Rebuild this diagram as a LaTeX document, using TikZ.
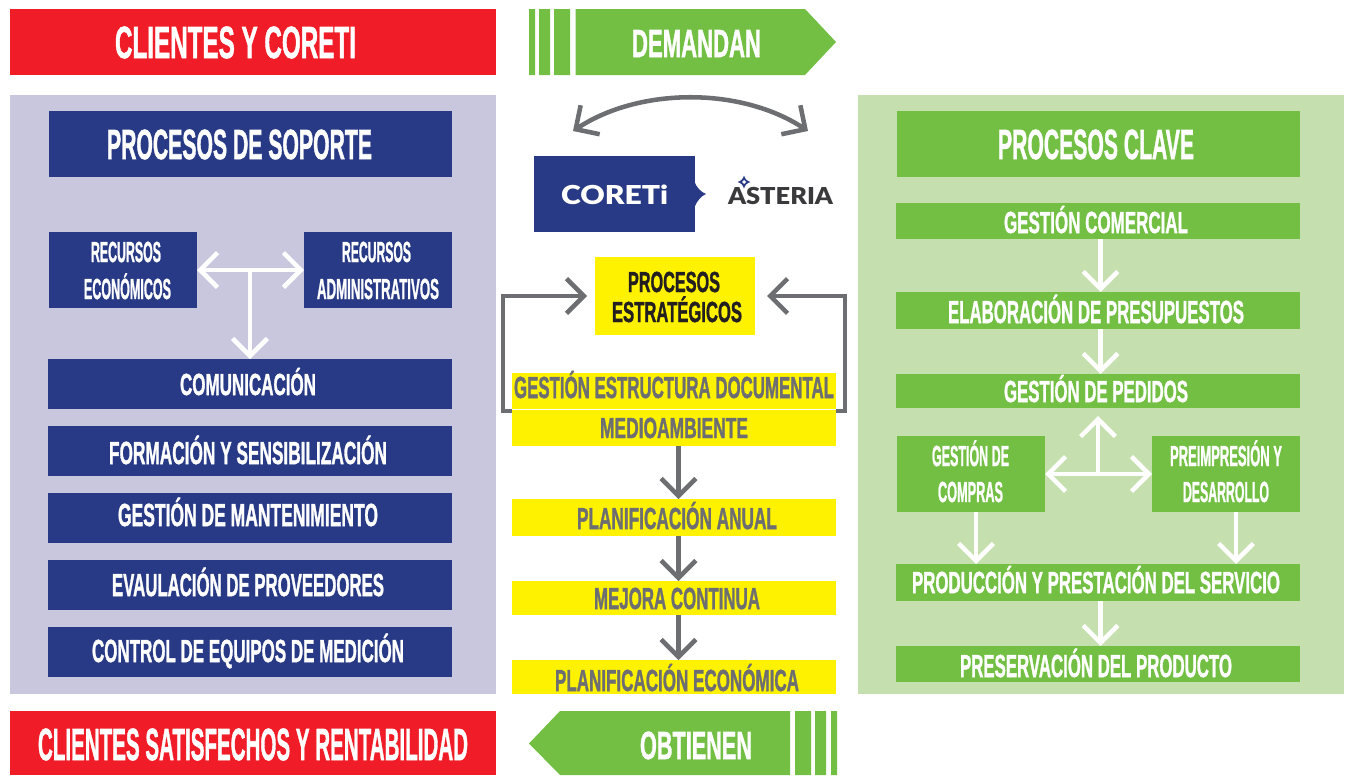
\documentclass[tikz,border=0pt]{standalone}
\usepackage{fontspec}
\setmainfont{Liberation Sans}
\newfontfamily\condfont{Liberation Sans Bold}[FakeBold=1.6]
\newfontfamily\logofont{Lato Black}
\usetikzlibrary{arrows.meta}
\definecolor{cblue}{HTML}{283A85}
\definecolor{cgreen}{HTML}{72BF44}
\definecolor{cred}{HTML}{F01C27}
\definecolor{cyel}{HTML}{FFF200}
\definecolor{cgray}{HTML}{6D6E71}
\definecolor{cdark}{HTML}{231F20}
\definecolor{plil}{HTML}{C8C7DE}
\definecolor{pgre}{HTML}{C6DFAE}
\definecolor{clogo}{HTML}{3A3A3C}
\newbox\fitbox
\newbox\caphbox
% #1 font, #2 target width px, #3 target cap height px, #4 text
\newcommand\fitb[4]{%
  \setbox\fitbox=\hbox{#1#4}\setbox\caphbox=\hbox{#1H}%
  \pgfmathsetmacro\fsx{(#2)*0.75/\wd\fitbox}%
  \pgfmathsetmacro\fsy{(#3)*0.75/\ht\caphbox}%
  \pgfmathsetmacro\fht{(#3)*0.75}%
  \raisebox{0pt}[\fht pt][0pt]{\scalebox{\fsx}[\fsy]{\box\fitbox}}}
% name, x0,y0,x1,y1, fill
\newcommand\bx[6]{\node[boxnode,fill=#6,minimum width={(#4-#2)*0.75pt},minimum height={(#5-#3)*0.75pt}] (#1) at ({(#2+#4)/2},{(#3+#5)/2}) {};}
% name, x0,y0,x1,y1, colour, text
\newcommand\tx[7]{\node[textnode,text=#6] (#1) at ({(#2+#4)/2},{(#3+#5)/2}) {\fitb{\condfont}{#4-#2}{#5-#3}{#7}};}
\newcommand\logotx[7]{\node[textnode,text=#6] (#1) at ({(#2+#4)/2},{(#3+#5)/2}) {\fitb{\logofont}{#4-#2}{#5-#3}{#7}};}
\tikzset{
  boxnode/.style={rectangle,draw=none,inner sep=0pt,outer sep=0pt},
  textnode/.style={rectangle,draw=none,inner sep=0pt,outer sep=0pt},
  wline/.style={draw=white,line width=3.4pt,line cap=butt},
  gline/.style={draw=cgray,line width=3.4pt,line join=miter},
  barb/.tip={Straight Barb[length=13pt,width=26pt,line width=3.4pt]},
  wa/.style={wline,-{barb}},
  wb/.style={wline,{barb}-{barb}},
  ga/.style={gline,-{barb}},
  gb/.style={gline,{barb}-{barb}}
}
\begin{document}
\begin{tikzpicture}[x=0.75pt,y=-0.75pt]
\useasboundingbox (0,0) rectangle (1345,775);
\fill[white] (0,0) rectangle (1345,775);
% panels
\bx{panelL}{10}{95}{496}{694}{plil}
\bx{panelR}{858}{95}{1344}{694}{pgre}
% top
\bx{redT}{10}{9}{496}{75}{cred}
\tx{redTt}{115}{27}{356}{58}{white}{CLIENTES Y CORETI}
\fill[cgreen] (529,9) rectangle (535,75) (539,9) rectangle (550,75) (554,9) rectangle (570,75);
\fill[cgreen] (575.5,9) -- (805,9) -- (836,42) -- (805,75) -- (575.5,75) -- cycle;
\tx{demT}{632}{30}{761}{57}{white}{DEMANDAN}
% bottom
\bx{redB}{10}{711}{496}{775}{cred}
\tx{redBt}{38}{729}{468}{760}{white}{CLIENTES SATISFECHOS Y RENTABILIDAD}
\fill[cgreen] (529,743.5) -- (560,711) -- (790,711) -- (790,775) -- (560,775) -- cycle;
\fill[cgreen] (795,711) rectangle (811,775) (815,711) rectangle (826,775) (831,711) rectangle (837,775);
\tx{obtT}{640}{732}{752}{759}{white}{OBTIENEN}
% logo
\bx{core}{534}{156}{695}{232}{cblue}
\fill[cblue] (694.5,182) .. controls (697,188) and (701,192) .. (706,194) .. controls (701,196) and (697,201) .. (694.5,207) -- cycle;
\logotx{coreT}{561}{185}{668}{204}{white}{CORETi}
\logotx{aster}{728}{187}{833}{204}{clogo}{ASTERIA}
\fill[cblue] (744,175.5) .. controls (745,179) and (747,181) .. (750.5,182) .. controls (747,183) and (745,185) .. (744,188.5) .. controls (743,185) and (741,183) .. (737.5,182) .. controls (741,181) and (743,179) .. (744,175.5) -- cycle;
\fill[white] (744,180) -- (746,182) -- (744,184) -- (742,182) -- cycle;
\coordinate (cL) at (573,131);
\coordinate (cR) at (808,131);
\coordinate (cL2) at (640,87);
\coordinate (cR2) at (741,87);
\draw[gb] (cL) .. controls (cL2) and (cR2) .. (cR);
% left column
\bx{sop}{49}{111}{452}{177}{cblue}
\tx{sopT}{107}{130}{372}{159}{white}{PROCESOS DE SOPORTE}
\bx{rec1}{49}{232}{197}{308}{cblue}
\tx{rec1a}{91}{242}{161}{262}{white}{RECURSOS}
\tx{rec1b}{84}{279}{171}{299}{white}{ECONÓMICOS}
\bx{rec2}{304}{232}{452}{308}{cblue}
\tx{rec2a}{342}{242}{411}{262}{white}{RECURSOS}
\tx{rec2b}{317}{279}{439}{299}{white}{ADMINISTRATIVOS}
\bx{com}{48}{359}{452}{409}{cblue}
\tx{comT}{180}{374}{316}{395}{white}{COMUNICACIÓN}
\bx{form}{48}{426}{452}{476}{cblue}
\tx{formT}{109}{442}{387}{464}{white}{FORMACIÓN Y SENSIBILIZACIÓN}
\bx{mant}{48}{493}{452}{543}{cblue}
\tx{mantT}{118}{504}{378}{526}{white}{GESTIÓN DE MANTENIMIENTO}
\bx{prov}{48}{560}{452}{610}{cblue}
\tx{provT}{112}{574}{384}{596}{white}{EVAULACIÓN DE PROVEEDORES}
\bx{ctrl}{48}{627}{452}{677}{cblue}
\tx{ctrlT}{92}{640}{404}{662}{white}{CONTROL DE EQUIPOS DE MEDICIÓN}
\draw[wb] (rec1.east) -- (rec2.west);
\coordinate (tL) at (250,270);
\draw[wa] (tL) -- (tL |- com.north);
% centre
\bx{estr}{595}{257}{755}{335}{cyel}
\tx{estrA}{628}{272}{720}{292}{cdark}{PROCESOS}
\tx{estrB}{612}{302}{742}{322}{cdark}{ESTRATÉGICOS}
\coordinate (loopL) at (503,411);
\coordinate (loopR) at (845,411);
\coordinate (gestL) at (512,411);
\coordinate (gestR) at (836,411);
\draw[ga,shorten >=6pt] (gestL) -- (loopL) -- (loopL |- estr.west) -- (estr.west);
\draw[ga,shorten >=9pt] (gestR) -- (loopR) -- (loopR |- estr.east) -- (estr.east);
\bx{gest}{512}{373}{836}{409}{cyel}
\tx{gestT}{514}{377}{834}{398}{cgray}{GESTIÓN ESTRUCTURA DOCUMENTAL}
\bx{medi}{512}{410}{836}{446}{cyel}
\tx{mediT}{600}{418}{748}{438}{cgray}{MEDIOAMBIENTE}
\bx{anua}{512}{499}{836}{536}{cyel}
\tx{anuaT}{577}{508}{777}{529}{cgray}{PLANIFICACIÓN ANUAL}
\bx{mejo}{512}{581}{836}{615}{cyel}
\tx{mejoT}{594}{588}{760}{609}{cgray}{MEJORA CONTINUA}
\bx{econ}{512}{660}{836}{694}{cyel}
\tx{econT}{555}{670}{799}{691}{cgray}{PLANIFICACIÓN ECONÓMICA}
\coordinate (mx) at (678.5,470);
\draw[ga] (mx |- medi.south) -- (mx |- anua.north);
\draw[ga] (mx |- anua.south) -- (mx |- mejo.north);
\draw[ga] (mx |- mejo.south) -- (mx |- econ.north);
% right column
\bx{cla}{897}{111}{1300}{177}{cgreen}
\tx{claT}{998}{130}{1194}{159}{white}{PROCESOS CLAVE}
\bx{come}{896}{203}{1300}{239}{cgreen}
\tx{comeT}{1004}{212}{1188}{233}{white}{GESTIÓN COMERCIAL}
\bx{pres}{896}{292}{1300}{329}{cgreen}
\tx{presT}{948}{301}{1244}{323}{white}{ELABORACIÓN DE PRESUPUESTOS}
\bx{pedi}{896}{374}{1300}{408}{cgreen}
\tx{pediT}{1004}{381}{1188}{402}{white}{GESTIÓN DE PEDIDOS}
\bx{compr}{897}{436}{1045}{512}{cgreen}
\tx{comprA}{932}{446}{1009}{466}{white}{GESTIÓN DE}
\tx{comprB}{938}{482}{1003}{502}{white}{COMPRAS}
\bx{prei}{1152}{436}{1300}{512}{cgreen}
\tx{preiA}{1170}{446}{1282}{466}{white}{PREIMPRESIÓN Y}
\tx{preiB}{1183}{482}{1269}{502}{white}{DESARROLLO}
\bx{prod}{896}{564}{1300}{601}{cgreen}
\tx{prodT}{912}{572}{1280}{593}{white}{PRODUCCIÓN Y PRESTACIÓN DEL SERVICIO}
\bx{pser}{896}{646}{1300}{682}{cgreen}
\tx{pserT}{960}{655}{1232}{677}{white}{PRESERVACIÓN DEL PRODUCTO}
\coordinate (rx) at (1100.5,260);
\draw[wa] (rx |- come.south) -- (rx |- pres.north);
\draw[wa] (rx |- pres.south) -- (rx |- pedi.north);
\draw[wa] (rx |- prod.south) -- (rx |- pser.north);
\coordinate (hL) at (compr.east |- 0,474);
\coordinate (hR) at (prei.west |- 0,474);
\draw[wb] (hL) -- (hR);
\coordinate (tR) at (1098,474);
\coordinate (tRu) at (1098,416);
\draw[wa] (tR) -- (tRu);
\coordinate (c1) at (976,512);
\coordinate (c2) at (1236,512);
\draw[wa] (c1) -- (c1 |- prod.north);
\draw[wa] (c2) -- (c2 |- prod.north);
\end{tikzpicture}
\end{document}
